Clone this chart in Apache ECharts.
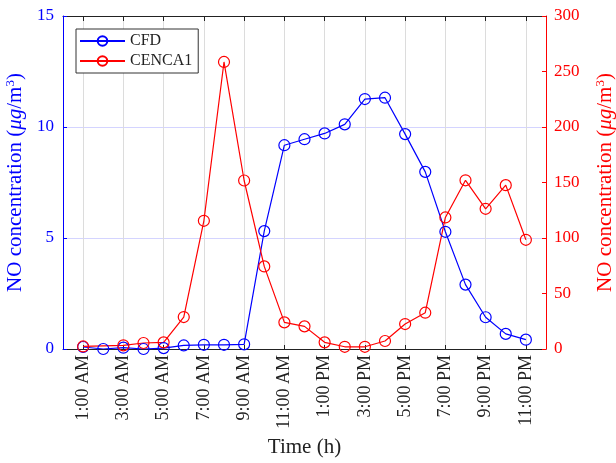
<!DOCTYPE html>
<html>
<head>
<meta charset="utf-8">
<title>NO concentration</title>
<script src="https://cdn.jsdelivr.net/npm/echarts@6/dist/echarts.min.js"></script>
<style>
  html, body { margin: 0; padding: 0; background: #fff; }
  #chart { width: 616px; height: 463px; }
</style>
</head>
<body>
<div id="chart"></div>
<script>
// hours 0..24, labels only on odd hours
var hours = ['12:00 AM', '1:00 AM', '2:00 AM', '3:00 AM', '4:00 AM', '5:00 AM', '6:00 AM',
  '7:00 AM', '8:00 AM', '9:00 AM', '10:00 AM', '11:00 AM', '12:00 PM', '1:00 PM', '2:00 PM',
  '3:00 PM', '4:00 PM', '5:00 PM', '6:00 PM', '7:00 PM', '8:00 PM', '9:00 PM', '10:00 PM',
  '11:00 PM', '12:00 AM '];
// first and last entries are padding (no data)
var cfd = [null, 0.09, 0, 0.06, 0, 0.04, 0.16, 0.19, 0.19, 0.21, 5.31, 9.18, 9.45, 9.71, 10.12,
  11.26, 11.32, 9.68, 7.98, 5.28, 2.9, 1.43, 0.68, 0.42, null];
var cenca1 = [null, 2.3, null, 3.3, 5.4, 6, 28.8, 115.5, 258.6, 151.8, 74.4, 24, 20.4, 6, 2,
  2, 7.2, 22.5, 32.7, 118.5, 152, 126.3, 147.6, 98.4, null];

var serif = '"Liberation Serif", "DejaVu Serif", serif';
var oddHour = function (idx) { return idx % 2 === 1; };

function nameRich(color) {
  return {
    fontFamily: serif, fontSize: 21, color: color,
    rich: {
      i: { fontFamily: serif, fontSize: 21, fontStyle: 'italic', color: color },
      sup: { fontFamily: serif, fontSize: 13, color: color, verticalAlign: 'top', padding: [0, 0, 10, 0] }
    }
  };
}
var unitName = 'NO concentration ({i|μg}/m{sup|3})';

var myChart = echarts.init(document.getElementById('chart'));
var option = {
  animation: false,
  backgroundColor: '#fff',
  grid: { left: 63, right: 70, top: 16, bottom: 114, containLabel: false, outerBoundsMode: 'none' },
  legend: {
    orient: 'vertical',
    left: 76, top: 29,
    backgroundColor: '#fff',
    borderColor: '#333', borderWidth: 1,
    padding: [4, 6, 4, 3],
    itemGap: 4,
    itemWidth: 45, itemHeight: 12,
    textStyle: { fontFamily: serif, fontSize: 16, color: '#222' },
    data: ['CFD', 'CENCA1']
  },
  xAxis: [{
    type: 'category',
    data: hours,
    boundaryGap: false,
    name: 'Time (h)',
    nameLocation: 'middle',
    nameGap: 88,
    nameTextStyle: { fontFamily: serif, fontSize: 21, color: '#222' },
    axisLine: { onZero: false, lineStyle: { color: '#222', width: 1 } },
    axisTick: { inside: true, length: 4, interval: oddHour, lineStyle: { color: '#222' } },
    axisLabel: { interval: oddHour, rotate: 90, fontFamily: serif, fontSize: 18, color: '#222', margin: 6 },
    splitLine: { show: true, interval: oddHour, lineStyle: { color: '#dcdcdc', width: 1 } }
  }, {
    type: 'category',
    data: hours,
    boundaryGap: false,
    position: 'top',
    axisLine: { onZero: false, lineStyle: { color: '#222', width: 1 } },
    axisTick: { inside: true, length: 5, interval: oddHour, lineStyle: { color: '#222' } },
    axisLabel: { show: false },
    splitLine: { show: false }
  }],
  yAxis: [{
    type: 'value',
    min: 0, max: 15, interval: 5,
    position: 'left',
    name: unitName,
    nameLocation: 'middle',
    nameRotate: 90,
    nameGap: 30,
    nameTextStyle: nameRich('#0000ff'),
    axisLine: { show: true, lineStyle: { color: '#0000ff', width: 1 } },
    axisTick: { show: true, inside: true, length: 4, lineStyle: { color: '#0000ff' } },
    axisLabel: { fontFamily: serif, fontSize: 17, color: '#0000ff', margin: 9 },
    splitLine: { show: true, lineStyle: { color: '#d4d4ff', width: 1 } }
  }, {
    type: 'value',
    min: 0, max: 300, interval: 50,
    position: 'right',
    name: unitName,
    nameLocation: 'middle',
    nameRotate: 90,
    nameGap: 48,
    nameTextStyle: nameRich('#ff0000'),
    axisLine: { show: true, lineStyle: { color: '#ff0000', width: 1 } },
    axisTick: { show: true, inside: true, length: 4, lineStyle: { color: '#ff0000' } },
    axisLabel: { fontFamily: serif, fontSize: 17, color: '#ff0000', margin: 8 },
    splitLine: { show: false }
  }],
  series: [{
    name: 'CFD',
    type: 'line',
    yAxisIndex: 0,
    data: cfd,
    symbol: 'circle',
    symbolSize: 11,
    color: '#0000ff',
    lineStyle: { color: '#0000ff', width: 1.2 },
    itemStyle: { color: 'rgba(0,0,0,0)', borderColor: '#0000ff', borderWidth: 1.2 }
  }, {
    name: 'CENCA1',
    type: 'line',
    yAxisIndex: 1,
    data: cenca1,
    connectNulls: true,
    symbol: 'circle',
    symbolSize: 11,
    color: '#ff0000',
    lineStyle: { color: '#ff0000', width: 1.2 },
    itemStyle: { color: 'rgba(0,0,0,0)', borderColor: '#ff0000', borderWidth: 1.2 }
  }]
};
myChart.setOption(option);
</script>
</body>
</html>
